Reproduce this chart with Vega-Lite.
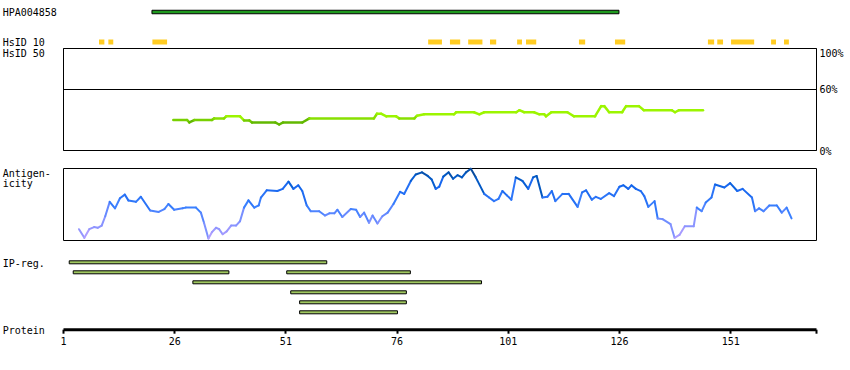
{
  "$schema": "https://vega.github.io/schema/vega-lite/v6.json",
  "padding": {"left": 1, "top": 0, "right": 0, "bottom": 0},
  "bounds": "flush",
  "spacing": 18,
  "resolve": {"scale": {"color": "independent", "y": "independent"}},
  "config": {
    "view": {"stroke": null},
    "font": "DejaVu Sans Mono",
    "axis": {"labelFont": "DejaVu Sans Mono", "labelFontSize": 10, "labelColor": "#000", "titleFont": "DejaVu Sans Mono", "titleFontSize": 10, "titleFontWeight": "normal", "titleColor": "#000", "grid": false}
  },
  "datasets": {
    "hpa": [{"track": "HPA004858", "start": 21, "end": 126}],
    "hsid10": [
      {"track": "HsID 10", "start": 9.1, "end": 10.3},
      {"track": "HsID 10", "start": 11.2, "end": 12.3},
      {"track": "HsID 10", "start": 21.1, "end": 24.4},
      {"track": "HsID 10", "start": 83.1, "end": 86.2},
      {"track": "HsID 10", "start": 88.0, "end": 90.3},
      {"track": "HsID 10", "start": 92.1, "end": 95.3},
      {"track": "HsID 10", "start": 97.0, "end": 98.4},
      {"track": "HsID 10", "start": 103.1, "end": 104.2},
      {"track": "HsID 10", "start": 105.1, "end": 107.4},
      {"track": "HsID 10", "start": 117.0, "end": 118.4},
      {"track": "HsID 10", "start": 125.1, "end": 127.4},
      {"track": "HsID 10", "start": 146.0, "end": 147.4},
      {"track": "HsID 10", "start": 148.1, "end": 149.4},
      {"track": "HsID 10", "start": 151.2, "end": 156.4},
      {"track": "HsID 10", "start": 160.2, "end": 161.3},
      {"track": "HsID 10", "start": 163.1, "end": 164.2}
    ],
    "hsid50": [
      {"r": 25.8, "p": 29.4}, {"r": 28.9, "p": 29.4}, {"r": 29.4, "p": 27}, {"r": 30.5, "p": 29.4}, {"r": 34.5, "p": 29.4},
      {"r": 35.0, "p": 31}, {"r": 37.2, "p": 31}, {"r": 37.7, "p": 33}, {"r": 40.8, "p": 33}, {"r": 41.7, "p": 29},
      {"r": 42.9, "p": 29}, {"r": 43.5, "p": 27}, {"r": 48.7, "p": 27}, {"r": 49.6, "p": 25}, {"r": 50.5, "p": 27},
      {"r": 54.8, "p": 27}, {"r": 56.4, "p": 31}, {"r": 70.9, "p": 31}, {"r": 71.6, "p": 35.6}, {"r": 72.5, "p": 35.6},
      {"r": 73.7, "p": 33}, {"r": 75.9, "p": 33}, {"r": 76.6, "p": 31}, {"r": 80.0, "p": 31}, {"r": 80.6, "p": 33.6},
      {"r": 82.2, "p": 35}, {"r": 88.9, "p": 35}, {"r": 89.4, "p": 37}, {"r": 93.4, "p": 37}, {"r": 94.6, "p": 35},
      {"r": 95.7, "p": 37}, {"r": 102.9, "p": 37}, {"r": 103.6, "p": 39}, {"r": 104.7, "p": 37}, {"r": 106.9, "p": 37},
      {"r": 108.1, "p": 35}, {"r": 109.2, "p": 35}, {"r": 109.6, "p": 33}, {"r": 110.8, "p": 37}, {"r": 114.4, "p": 37},
      {"r": 115.9, "p": 33}, {"r": 120.6, "p": 33}, {"r": 122.0, "p": 43}, {"r": 122.7, "p": 43}, {"r": 123.8, "p": 37},
      {"r": 126.7, "p": 37}, {"r": 127.6, "p": 43}, {"r": 130.5, "p": 43}, {"r": 131.6, "p": 39}, {"r": 137.9, "p": 39},
      {"r": 138.6, "p": 37}, {"r": 139.5, "p": 39}, {"r": 144.9, "p": 39}
    ],
    "antigen": [
      {"r": 4.6, "v": 0.15}, {"r": 5.8, "v": 0.03}, {"r": 6.9, "v": 0.15}, {"r": 8.0, "v": 0.18}, {"r": 8.8, "v": 0.17},
      {"r": 9.7, "v": 0.2}, {"r": 10.5, "v": 0.33}, {"r": 11.5, "v": 0.53}, {"r": 12.7, "v": 0.44}, {"r": 13.8, "v": 0.58},
      {"r": 14.9, "v": 0.63}, {"r": 15.7, "v": 0.55}, {"r": 17.4, "v": 0.53}, {"r": 18.5, "v": 0.6}, {"r": 20.6, "v": 0.41},
      {"r": 22.5, "v": 0.39}, {"r": 23.8, "v": 0.43}, {"r": 24.7, "v": 0.5}, {"r": 26.0, "v": 0.42}, {"r": 27.9, "v": 0.44},
      {"r": 28.6, "v": 0.45}, {"r": 30.9, "v": 0.45}, {"r": 32.0, "v": 0.38}, {"r": 32.7, "v": 0.24}, {"r": 33.7, "v": 0.02},
      {"r": 34.5, "v": 0.11}, {"r": 35.4, "v": 0.17}, {"r": 36.1, "v": 0.15}, {"r": 36.9, "v": 0.08}, {"r": 37.8, "v": 0.12},
      {"r": 38.8, "v": 0.2}, {"r": 39.9, "v": 0.2}, {"r": 40.8, "v": 0.26}, {"r": 41.7, "v": 0.45}, {"r": 42.7, "v": 0.55},
      {"r": 44.0, "v": 0.45}, {"r": 45.0, "v": 0.48}, {"r": 45.5, "v": 0.59}, {"r": 46.8, "v": 0.69}, {"r": 49.2, "v": 0.68},
      {"r": 50.4, "v": 0.71}, {"r": 51.7, "v": 0.81}, {"r": 52.8, "v": 0.71}, {"r": 53.9, "v": 0.76}, {"r": 54.8, "v": 0.68},
      {"r": 55.8, "v": 0.48}, {"r": 56.7, "v": 0.4}, {"r": 58.6, "v": 0.4}, {"r": 59.9, "v": 0.34}, {"r": 60.9, "v": 0.37},
      {"r": 62.0, "v": 0.37}, {"r": 62.7, "v": 0.42}, {"r": 63.8, "v": 0.32}, {"r": 65.7, "v": 0.43}, {"r": 66.9, "v": 0.42},
      {"r": 67.8, "v": 0.32}, {"r": 68.7, "v": 0.38}, {"r": 69.8, "v": 0.24}, {"r": 70.6, "v": 0.34}, {"r": 71.7, "v": 0.23},
      {"r": 72.8, "v": 0.33}, {"r": 74.0, "v": 0.38}, {"r": 75.3, "v": 0.5}, {"r": 76.8, "v": 0.67}, {"r": 77.7, "v": 0.64},
      {"r": 79.2, "v": 0.82}, {"r": 80.3, "v": 0.91}, {"r": 81.7, "v": 0.94}, {"r": 83.0, "v": 0.89}, {"r": 83.9, "v": 0.84},
      {"r": 84.8, "v": 0.71}, {"r": 85.6, "v": 0.74}, {"r": 86.5, "v": 0.88}, {"r": 87.7, "v": 0.94}, {"r": 88.7, "v": 0.85},
      {"r": 89.7, "v": 0.9}, {"r": 90.7, "v": 0.87}, {"r": 91.6, "v": 0.94}, {"r": 92.7, "v": 0.99}, {"r": 93.8, "v": 0.87},
      {"r": 95.7, "v": 0.64}, {"r": 96.8, "v": 0.59}, {"r": 97.9, "v": 0.54}, {"r": 98.9, "v": 0.57}, {"r": 99.8, "v": 0.68},
      {"r": 100.8, "v": 0.62}, {"r": 101.8, "v": 0.56}, {"r": 102.8, "v": 0.87}, {"r": 104.3, "v": 0.82}, {"r": 105.6, "v": 0.71},
      {"r": 106.7, "v": 0.87}, {"r": 107.5, "v": 0.89}, {"r": 108.8, "v": 0.59}, {"r": 109.9, "v": 0.6}, {"r": 110.9, "v": 0.68},
      {"r": 111.7, "v": 0.54}, {"r": 113.3, "v": 0.64}, {"r": 114.7, "v": 0.64}, {"r": 116.7, "v": 0.46}, {"r": 117.7, "v": 0.66},
      {"r": 118.6, "v": 0.69}, {"r": 119.9, "v": 0.56}, {"r": 120.8, "v": 0.6}, {"r": 121.9, "v": 0.57}, {"r": 123.8, "v": 0.65},
      {"r": 124.9, "v": 0.61}, {"r": 126.1, "v": 0.74}, {"r": 127.0, "v": 0.76}, {"r": 128.1, "v": 0.71}, {"r": 128.8, "v": 0.76},
      {"r": 129.8, "v": 0.71}, {"r": 130.9, "v": 0.68}, {"r": 131.7, "v": 0.61}, {"r": 132.6, "v": 0.46}, {"r": 134.0, "v": 0.54},
      {"r": 134.7, "v": 0.3}, {"r": 135.8, "v": 0.29}, {"r": 137.6, "v": 0.22}, {"r": 138.5, "v": 0.03}, {"r": 139.6, "v": 0.07},
      {"r": 140.8, "v": 0.19}, {"r": 142.8, "v": 0.19}, {"r": 143.5, "v": 0.45}, {"r": 144.6, "v": 0.4}, {"r": 145.5, "v": 0.52},
      {"r": 146.8, "v": 0.59}, {"r": 147.6, "v": 0.77}, {"r": 149.7, "v": 0.73}, {"r": 151.0, "v": 0.79}, {"r": 152.6, "v": 0.68},
      {"r": 153.8, "v": 0.71}, {"r": 155.9, "v": 0.59}, {"r": 156.6, "v": 0.4}, {"r": 157.5, "v": 0.44}, {"r": 158.5, "v": 0.4},
      {"r": 159.8, "v": 0.48}, {"r": 161.5, "v": 0.48}, {"r": 162.6, "v": 0.38}, {"r": 163.7, "v": 0.45}, {"r": 164.8, "v": 0.3}
    ],
    "ip": [
      {"row": 1, "start": 2.4, "end": 60.3},
      {"row": 2, "start": 3.3, "end": 38.3},
      {"row": 2, "start": 51.3, "end": 79.1},
      {"row": 3, "start": 30.2, "end": 95.1},
      {"row": 4, "start": 52.2, "end": 78.2},
      {"row": 5, "start": 54.2, "end": 78.2},
      {"row": 6, "start": 54.2, "end": 76.2}
    ]
  },
  "vconcat": [
    {
      "width": 753,
      "height": 30,
      "layer": [
        {
          "data": {"name": "hpa"},
          "mark": {"type": "bar", "fill": "#1e9a1e", "stroke": "#000", "strokeWidth": 1, "height": 3.5},
          "encoding": {
            "y": {"field": "track", "type": "nominal", "scale": {"domain": ["HPA004858", "HsID 10"], "range": [9.75, 44.25], "paddingInner": 0.85, "paddingOuter": 0},
              "axis": {"title": null, "domain": false, "ticks": false, "tickSize": 0, "labelAlign": "left", "labelPadding": 60.8, "labelBaseline": "alphabetic", "labelOffset": 4}},
            "x": {"field": "start", "type": "quantitative", "scale": {"domain": [1, 170.3], "nice": false, "zero": false}, "axis": null},
            "x2": {"field": "end"}
          }
        },
        {
          "data": {"name": "hsid10"},
          "mark": {"type": "bar", "fill": "#ffcc22", "height": 5},
          "encoding": {
            "y": {"field": "track", "type": "nominal"},
            "x": {"field": "start", "type": "quantitative"},
            "x2": {"field": "end"}
          }
        }
      ]
    },
    {
      "width": 753,
      "height": 102,
      "view": {"stroke": "#000", "strokeWidth": 1},
      "data": {"name": "hsid50"},
      "transform": [
        {"window": [{"op": "lead", "field": "r", "as": "r2"}, {"op": "lead", "field": "p", "as": "p2"}], "sort": [{"field": "r", "order": "ascending"}]},
        {"filter": "datum.r2 != null"}
      ],
      "mark": {"type": "rule", "strokeWidth": 2.5, "strokeCap": "round"},
      "encoding": {
        "x": {"field": "r", "type": "quantitative", "scale": {"domain": [1, 170.3], "nice": false, "zero": false},
          "axis": {"orient": "top", "title": "HsID 50", "labels": false, "ticks": false, "tickSize": 0, "domain": false, "titleX": -60.8, "titleY": 8, "titleAlign": "left", "titleBaseline": "alphabetic", "titleAnchor": "start"}},
        "x2": {"field": "r2"},
        "y": {"field": "p", "type": "quantitative", "scale": {"domain": [0, 100], "nice": false, "zero": false},
          "axis": {"orient": "right", "title": null, "values": [0, 60, 100], "grid": true, "gridColor": "#000", "gridWidth": 1, "gridOpacity": 1, "domain": false, "ticks": false, "tickSize": 0, "labelPadding": 3, "labelExpr": "datum.value + '%'", "labelBaseline": "alphabetic", "labelOffset": {"condition": {"test": "datum.value === 100", "value": 8}, "value": 4}, "labelFlush": false}},
        "y2": {"field": "p2"},
        "color": {"field": "p", "type": "quantitative", "scale": {"domain": [27, 33], "range": ["#62b800", "#9cf500"], "clamp": true}, "legend": null}
      }
    },
    {
      "width": 753,
      "height": 72,
      "view": {"stroke": "#000", "strokeWidth": 1},
      "data": {"name": "antigen"},
      "transform": [
        {"window": [{"op": "lead", "field": "r", "as": "r2"}, {"op": "lead", "field": "v", "as": "v2"}], "sort": [{"field": "r", "order": "ascending"}]},
        {"filter": "datum.r2 != null"}
      ],
      "mark": {"type": "rule", "strokeWidth": 2, "strokeCap": "round"},
      "encoding": {
        "x": {"field": "r", "type": "quantitative", "scale": {"domain": [1, 170.3], "nice": false, "zero": false}, "axis": null},
        "x2": {"field": "r2"},
        "y": {"field": "v", "type": "quantitative", "scale": {"domain": [0, 1], "nice": false},
          "axis": {"title": ["Antigen-", "icity"], "titleAngle": 0, "titleX": -60.8, "titleY": 8, "titleAlign": "left", "titleBaseline": "alphabetic", "titleLineHeight": 10, "labels": false, "ticks": false, "tickSize": 0, "domain": false, "grid": false}},
        "y2": {"field": "v2"},
        "color": {"field": "v", "type": "quantitative", "scale": {"domain": [0, 0.25, 0.45, 0.75, 1], "range": ["#b4a0ff", "#7a90ff", "#3a80ff", "#1466ee", "#0a4a9a"]}, "legend": null}
      }
    },
    {
      "width": 753,
      "height": 71.2,
      "data": {"name": "ip"},
      "mark": {"type": "bar", "fill": "#a0c860", "stroke": "#000", "strokeWidth": 1, "height": 3},
      "encoding": {
        "y": {"field": "row", "type": "ordinal", "scale": {"domain": [1, 2, 3, 4, 5, 6], "range": [2.3, 56.3], "paddingInner": 0.6, "paddingOuter": 0},
          "axis": {"title": "IP-reg.", "titleAngle": 0, "titleX": -60.8, "titleY": 8, "titleAlign": "left", "titleBaseline": "alphabetic", "labels": false, "ticks": false, "tickSize": 0, "domain": false}},
        "x": {"field": "start", "type": "quantitative", "scale": {"domain": [1, 170.3], "nice": false, "zero": false},
          "axis": {"orient": "bottom", "title": "Protein", "titleX": -60.8, "titleY": 3.8, "titleAlign": "left", "titleBaseline": "alphabetic", "titleAnchor": "start",
            "values": [1, 26, 51, 76, 101, 126, 151, 170.3], "labelExpr": "datum.value > 170 ? '' : datum.label",
            "domain": true, "domainColor": "#000", "domainWidth": 3, "ticks": true, "tickColor": "#000", "tickWidth": 2, "tickSize": 4,
            "labelPadding": 10.8, "labelBaseline": "alphabetic", "labelFlush": false, "grid": false}},
        "x2": {"field": "end"}
      }
    }
  ]
}
